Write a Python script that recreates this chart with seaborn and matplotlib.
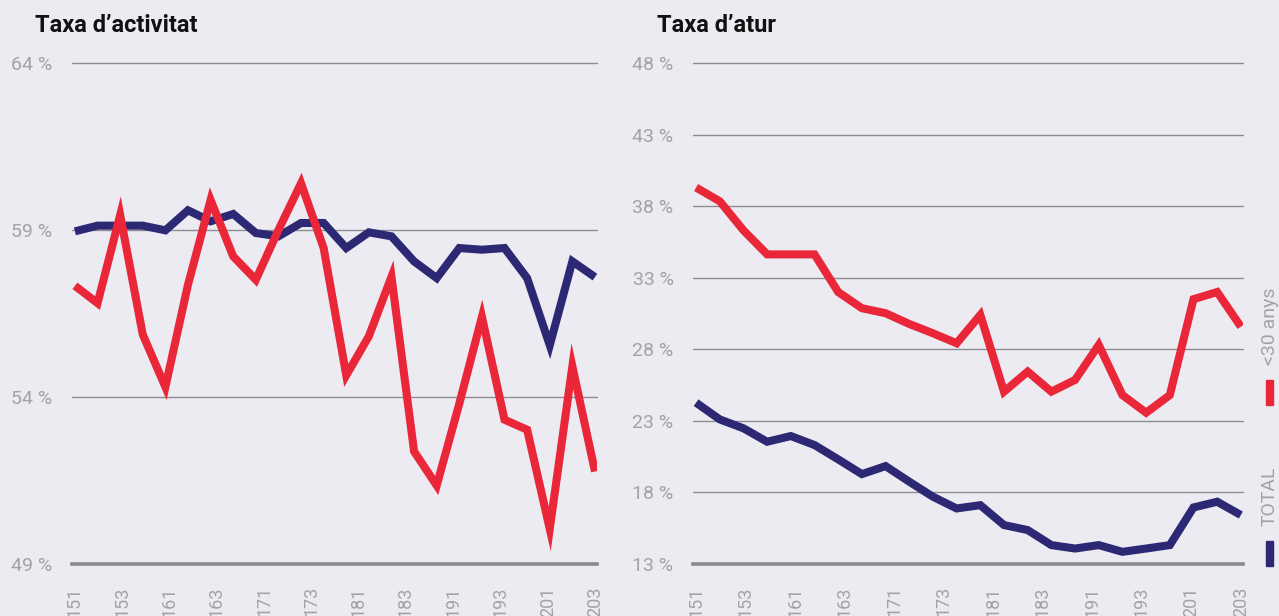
import matplotlib
matplotlib.use('Agg')
import matplotlib.pyplot as plt
from matplotlib.patches import Rectangle
import seaborn as sns
import numpy as np
import pandas as pd

#  Colors
BG = '#ECEBF2'
RED = '#EA2639'
NAVY = '#2C2874'
GREY_TXT = '#A2A2A7'
GRID = '#8E8E92'

# quarters 2015T1 .. 2020T4 (24 points), tick labels every ~2 quarters
quarters = list(range(24))
tick_labels = ['151', '153', '161', '163', '171', '173', '181', '183', '191', '193', '201', '203']

# Taxa d'activitat (%)
act_total = [58.96, 59.13, 59.13, 59.13, 58.99, 59.59, 59.26, 59.48, 58.91, 58.81, 59.21, 59.21,
             58.46, 58.93, 58.81, 58.06, 57.56, 58.46, 58.41, 58.46, 57.56, 55.55, 58.06, 57.59]
act_young = [57.33, 56.81, 59.45, 55.87, 54.3, 57.36, 59.9, 58.21, 57.51, 59.0, 60.4, 58.46,
             54.65, 55.82, 57.6, 52.37, 51.35, 53.8, 56.4, 53.32, 53.02, 50.05, 54.92, 51.77]

# Taxa d'atur (%)
atur_total = [24.27, 23.1, 22.48, 21.54, 21.94, 21.31, 20.31, 19.28, 19.84, 18.75, 17.7, 16.88,
              17.11, 15.72, 15.37, 14.32, 14.08, 14.32, 13.85, 14.08, 14.32, 16.95, 17.35, 16.42]
atur_young = [39.3, 38.34, 36.31, 34.63, 34.63, 34.63, 32.0, 30.87, 30.52, 29.77, 29.12, 28.42,
              30.4, 25.04, 26.44, 25.04, 25.86, 28.3, 24.8, 23.57, 24.8, 31.5, 32.0, 29.58]

series_names = ['TOTAL', '<30 anys']

act_ticks = [49, 54, 59, 64]
atur_ticks = [13, 18, 23, 28, 33, 38, 43, 48]


def make_df(total, young):
    return pd.DataFrame({
        'q': quarters * 2,
        'valor': total + young,
        'serie': [series_names[0]] * len(total) + [series_names[1]] * len(young),
    })


def draw_panel(ax, df, yticks):
    sns.lineplot(data=df, x='q', y='valor', hue='serie', hue_order=series_names,
                 palette=[NAVY, RED], linewidth=5.8, legend=False, ax=ax,
                 solid_joinstyle='miter', solid_capstyle='butt')
    ax.set_facecolor(BG)
    ax.set_xlim(-0.13, 23.09)
    ax.set_ylim(yticks[0], yticks[-1])
    ax.set_yticks(yticks)
    ax.set_yticklabels([f'{t} %' for t in yticks])
    ax.set_xticks(np.linspace(0, 23, len(tick_labels)))
    ax.set_xticklabels(tick_labels, rotation=90, va='top')
    ax.set_xlabel('')
    ax.set_ylabel('')
    ax.grid(False)
    for t in yticks[1:]:
        ax.axhline(t, color=GRID, lw=1.0, zorder=0, clip_on=False)
    for s in ['top', 'left', 'right']:
        ax.spines[s].set_visible(False)
    ax.spines['bottom'].set_color('#8A8A8E')
    ax.spines['bottom'].set_linewidth(2.6)
    ax.tick_params(axis='y', length=0, pad=14, labelsize=14, labelcolor=GREY_TXT)
    ax.tick_params(axis='x', length=0, pad=16, labelsize=13, labelcolor=GREY_TXT)


def main():
    sns.set_theme(style='white')
    plt.rcParams['font.family'] = ['Roboto', 'DejaVu Sans']
    plt.rcParams['figure.facecolor'] = BG

    fig = plt.figure(figsize=(12.79, 6.16), dpi=100)
    ax1 = fig.add_axes([72 / 1279, 1 - 564 / 616, 525 / 1279, 501 / 616])
    ax2 = fig.add_axes([693 / 1279, 1 - 564 / 616, 550 / 1279, 501 / 616])

    draw_panel(ax1, make_df(act_total, act_young), act_ticks)
    draw_panel(ax2, make_df(atur_total, atur_young), atur_ticks)

    fig.text(35 / 1279, 1 - 32 / 616, 'Taxa d\u2019activitat', fontsize=17, fontweight='bold',
             color='#111111', va='baseline', ha='left')
    fig.text(657 / 1279, 1 - 32 / 616, 'Taxa d\u2019atur', fontsize=17, fontweight='bold',
             color='#111111', va='baseline', ha='left')

    #  legend on the right edge
    fig.text(1270 / 1279, 1 - 326 / 616, '<30 anys', rotation=90, fontsize=14,
             color=GREY_TXT, ha='center', va='center')
    fig.text(1270 / 1279, 1 - 496 / 616, 'TOTAL', rotation=90, fontsize=14,
             color=GREY_TXT, ha='center', va='center')
    fig.patches.append(Rectangle((1266 / 1279, 1 - 405 / 616), 7 / 1279, 25 / 616,
                                 transform=fig.transFigure, color=RED, figure=fig))
    fig.patches.append(Rectangle((1266 / 1279, 1 - 566 / 616), 7 / 1279, 25 / 616,
                                 transform=fig.transFigure, color=NAVY, figure=fig))

    fig.savefig('out.png', dpi=100, facecolor=BG)


if __name__ == '__main__':
    main()
